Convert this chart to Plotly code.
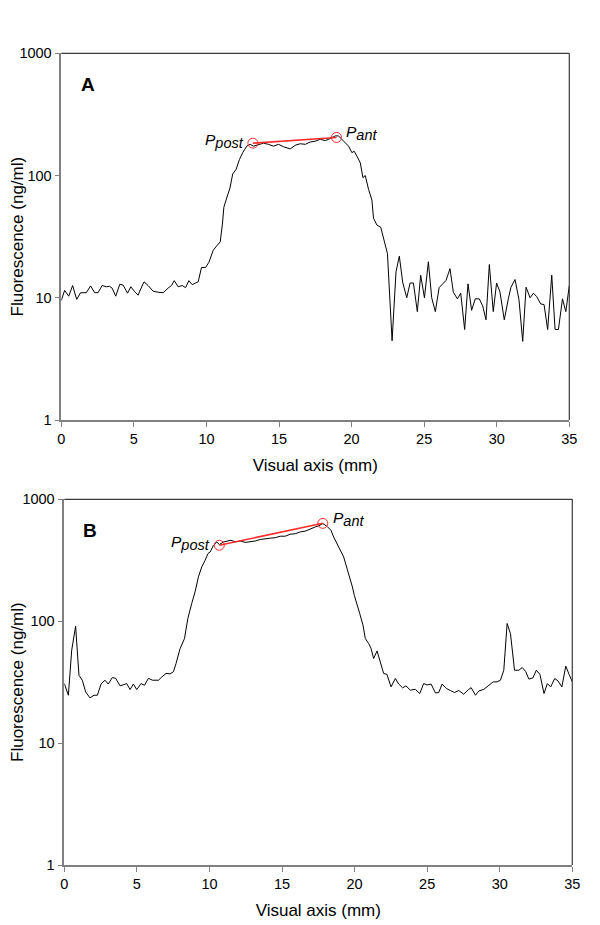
import math
import plotly.graph_objects as go

# ---------------- data ----------------
a_x = [0.0, 0.23, 0.51, 0.78, 1.06, 1.33, 1.5, 1.72, 2.02, 2.3, 2.53, 2.81, 3.1, 3.33, 3.5, 3.75,
       4.03, 4.26, 4.56, 4.79, 5.06, 5.29, 5.5, 5.7, 5.98, 6.33, 6.67, 7.02, 7.36, 7.59, 7.78,
       8.05, 8.33, 8.56, 8.79, 9.02, 9.25, 9.43, 9.66, 9.94, 10.17, 10.47, 10.7, 10.95, 11.1,
       11.2, 11.35, 11.5, 11.62, 11.81, 12.04, 12.27, 12.5, 12.78, 13.01, 13.24, 13.58, 13.93,
       14.27, 14.62, 14.96, 15.31, 15.77, 16.12, 16.46, 16.81, 17.15, 17.5, 17.84, 18.19, 18.53,
       18.88, 19.1, 19.33, 19.56, 19.79, 20.02, 20.18, 20.37, 20.6, 20.78, 20.94, 21.17, 21.4,
       21.51, 21.74, 22.01, 22.24, 22.47, 22.79, 23.06, 23.29, 23.52, 23.8, 24.03, 24.26, 24.53,
       24.76, 25.02, 25.29, 25.52, 25.77, 26.03, 26.28, 26.51, 26.78, 27.01, 27.29, 27.52, 27.79,
       28.02, 28.27, 28.52, 28.8, 29.03, 29.26, 29.49, 29.76, 29.99, 30.22, 30.52, 30.8, 30.98,
       31.26, 31.53, 31.79, 32.02, 32.3, 32.53, 32.76, 33.03, 33.26, 33.51, 33.79, 34.02, 34.25,
       34.53, 34.76, 35.0]
a_y = [9.5, 11.5, 10.3, 12.6, 9.7, 11.0, 11.0, 11.0, 12.5, 11.0, 11.0, 12.6, 12.3, 12.4, 12.0, 10.3,
       12.9, 12.7, 10.9, 12.3, 11.2, 10.5, 12.0, 13.5, 12.6, 11.3, 11.1, 11.0, 12.0, 12.6, 13.8,
       12.3, 12.6, 12.1, 13.8, 12.8, 13.2, 13.5, 17.7, 17.7, 19.5, 24.5, 26.5, 28.7, 40,
       55, 63, 72, 79, 103, 112, 135, 154, 174, 180, 174, 180, 184,
       180, 174, 180, 172, 165, 177, 182, 180, 188, 191, 198, 193, 201,
       211, 211, 198, 188, 174, 154, 158, 144, 127, 96, 100, 77, 63,
       44.8, 39.4, 37.7, 29.7, 23, 4.45, 16.3, 21.9, 13.4, 10, 13.2, 13.2, 7.7,
       15.3, 10, 19.7, 10, 7.7, 12.1, 13, 13.9, 17.3, 11.1, 9.8, 10.9, 5.5,
       13, 7.9, 9.8, 9.8, 8.6, 6.6, 18.7, 7.7, 13.2, 11.2, 6.6, 9.8, 12.2,
       14.1, 9.7, 4.4, 12.2, 10, 10.9, 10.2, 8.9, 8.8, 5.5, 15.3, 5.5, 5.5,
       9.8, 7.7, 12.6]

b_x = [0.0, 0.28, 0.51, 0.78, 1.01, 1.24, 1.47, 1.77, 2.05, 2.28, 2.53, 2.8, 3.03, 3.31, 3.54, 3.84,
       4.11, 4.3, 4.53, 4.76, 4.99, 5.29, 5.52, 5.8, 6.07, 6.3, 6.49, 6.72, 7.01, 7.29, 7.52,
       7.7, 7.98, 8.28, 8.51, 8.78, 9.01, 9.24, 9.47, 9.7, 9.9, 10.05, 10.28, 10.51, 10.68,
       10.97, 11.2, 11.48, 11.78, 12.12, 12.47, 12.81, 13.16, 13.5, 13.85, 14.19, 14.53, 14.88,
       15.22, 15.57, 15.91, 16.26, 16.6, 16.95, 17.29, 17.52, 17.82, 18.1, 18.37, 18.56, 18.79,
       19.02, 19.25, 19.48, 19.66, 19.85, 19.98, 20.17, 20.35, 20.58, 20.74, 20.97, 21.13, 21.31,
       21.55, 21.77, 22.0, 22.23, 22.51, 22.81, 23.04, 23.31, 23.54, 23.84, 24.19, 24.49, 24.76,
       24.99, 25.27, 25.57, 25.8, 26.03, 26.33, 26.6, 26.88, 27.18, 27.52, 27.87, 28.03, 28.33,
       28.56, 28.9, 29.25, 29.55, 29.82, 30.05, 30.28, 30.51, 30.74, 31.02, 31.32, 31.55, 31.78,
       32.01, 32.29, 32.52, 32.77, 33.05, 33.28, 33.51, 33.79, 34.02, 34.28, 34.55, 34.78, 35.0]
b_y = [30.8, 24.7, 57.8, 91, 36, 32.8, 26.3, 23.5, 24.7, 24.7, 30.5, 32.8, 30.5, 34.5, 34, 29.5,
       30.2, 30.8, 27.5, 30.5, 27.5, 30.8, 29.8, 34, 32.8, 32.8, 32.8, 34.9, 37.3, 37, 38.5,
       45, 59.7, 72, 105, 140, 174, 231, 279, 316, 359, 370, 420, 447, 425,
       447, 452, 461, 447, 455, 443, 447, 455, 468, 476, 480, 484, 498,
       498, 517, 522, 540, 548, 575, 593, 605, 632, 600, 557, 490, 433,
       382, 336, 270, 231, 191, 163, 140, 116, 92.7, 72, 65.6, 60, 49.4,
       57, 46.3, 37.3, 36.6, 28.9, 33.9, 30.5, 28.4, 29.5, 27.2, 27.6, 25.5, 30.8,
       30, 30.5, 25.8, 26, 30.5, 28, 27, 26, 27, 25.2, 27.6, 28.5, 24.7,
       26.8, 27.6, 30, 31.8, 31.8, 32.8, 39.6, 95.8, 79, 39.6, 39.6, 41.7, 38.8,
       33.5, 34.3, 39.6, 36.6, 25.5, 30.8, 28.9, 33.9, 32.3, 28.9, 42.8, 36.6, 31.8]

# P_post / P_ant points
a_p_x = [13.2, 18.96]
a_p_y = [184, 205]
b_p_x = [10.68, 17.81]
b_p_y = [420, 635]

x_ticks = [0, 5, 10, 15, 20, 25, 30, 35]
y_ticks = [1, 10, 100, 1000]
y_tick_text = ["1", "10", "100", "1000"]
panel_labels = ["A", "B"]
x_title = "Visual axis (mm)"
y_title = "Fluorescence (ng/ml)"

# ---------------- figure ----------------
W, H = 600, 925
OFF = 8  # page body margin shifts the figure by this many pixels
ML, MR, MT, MB = 50, 20, 40, 50
PW, PH = W - ML - MR, H - MT - MB
FONT = "Liberation Sans, Arial, sans-serif"

fig = go.Figure()
red = "#ff2a2a"
fig.add_trace(go.Scatter(x=a_x, y=a_y, mode="lines", line=dict(color="black", width=1),
                         xaxis="x", yaxis="y", showlegend=False))
fig.add_trace(go.Scatter(x=a_p_x, y=a_p_y, mode="lines+markers", line=dict(color=red, width=1.6),
                         marker=dict(symbol="circle-open", size=10, color=red, line=dict(width=1)),
                         xaxis="x", yaxis="y", showlegend=False))
fig.add_trace(go.Scatter(x=b_x, y=b_y, mode="lines", line=dict(color="black", width=1),
                         xaxis="x2", yaxis="y2", showlegend=False))
fig.add_trace(go.Scatter(x=b_p_x, y=b_p_y, mode="lines+markers", line=dict(color=red, width=1.6),
                         marker=dict(symbol="circle-open", size=10, color=red, line=dict(width=1)),
                         xaxis="x2", yaxis="y2", showlegend=False))

# pixel boxes (in the screenshot) of the two plot areas (left, right, top, bottom)
boxA = (61.3, 569.3, 53.3, 420.0)
boxB = (64.3, 572.3, 499.3, 865.0)


def px_x(px):
    return (px - OFF - ML) / PW


def px_y(py):
    return (H - MB - (py - OFF)) / PH


def xdom(b):
    return [px_x(b[0]), px_x(b[1])]


def ydom(b):
    return [px_y(b[3]), px_y(b[2])]


common_x = dict(range=[0, 35], tickmode="array", tickvals=x_ticks, ticks="outside", ticklen=5,
                tickcolor="#808080", tickwidth=1, showline=True, linecolor="#808080", linewidth=1.5,
                showgrid=False, zeroline=False, automargin=False,
                tickfont=dict(family=FONT, size=14.5, color="black"),
                title=dict(text=x_title, font=dict(family=FONT, size=17, color="black"), standoff=13))
common_y = dict(type="log", range=[0, 3], tickmode="array", tickvals=y_ticks, ticktext=y_tick_text,
                ticks="outside", ticklen=5, tickcolor="#808080", tickwidth=1, showline=True,
                linecolor="#808080", linewidth=1.5, showgrid=False, zeroline=False, automargin=False,
                tickfont=dict(family=FONT, size=14.5, color="black"),
                title=dict(text=y_title, font=dict(family=FONT, size=17, color="black"), standoff=1))

fig.update_layout(
    width=W, height=H, margin=dict(l=ML, r=MR, t=MT, b=MB),
    paper_bgcolor="white", plot_bgcolor="white",
    xaxis=dict(common_x, domain=xdom(boxA), anchor="y"),
    yaxis=dict(common_y, domain=ydom(boxA), anchor="x"),
    xaxis2=dict(common_x, domain=xdom(boxB), anchor="y2"),
    yaxis2=dict(common_y, domain=ydom(boxB), anchor="x2"),
)

# top and right frame lines (darker)
shapes = []
for xr, yr in (("x domain", "y domain"), ("x2 domain", "y2 domain")):
    shapes.append(dict(type="line", xref=xr, yref=yr, x0=0, x1=1, y0=1, y1=1,
                       line=dict(color="#3a3a3a", width=1.2)))
    shapes.append(dict(type="line", xref=xr, yref=yr, x0=1, x1=1, y0=0, y1=1,
                       line=dict(color="#3a3a3a", width=1.2)))
fig.update_layout(shapes=shapes)

ann = []
ann.append(dict(text="<b>" + panel_labels[0] + "</b>", xref="paper", yref="paper",
                x=px_x(79), y=px_y(85), xanchor="left", yanchor="middle", showarrow=False,
                font=dict(family=FONT, size=19, color="black")))
ann.append(dict(text="<b>" + panel_labels[1] + "</b>", xref="paper", yref="paper",
                x=px_x(81), y=px_y(530), xanchor="left", yanchor="middle", showarrow=False,
                font=dict(family=FONT, size=19, color="black")))

lab_font = dict(family=FONT, size=15.5, color="black")
post_txt = "<i>P<sub><span style='font-size:14.5px'>post</span></sub></i>"
ant_txt = "<i>P<sub><span style='font-size:14.5px'>ant</span></sub></i>"
ann.append(dict(text=post_txt, xref="x", yref="y", x=12.75, y=math.log10(192),
                xanchor="right", yanchor="middle", showarrow=False, font=lab_font))
ann.append(dict(text=ant_txt, xref="x", yref="y", x=19.5, y=math.log10(222),
                xanchor="left", yanchor="middle", showarrow=False, font=lab_font))
ann.append(dict(text=post_txt, xref="x2", yref="y2", x=10.2, y=math.log10(440),
                xanchor="right", yanchor="middle", showarrow=False, font=lab_font))
ann.append(dict(text=ant_txt, xref="x2", yref="y2", x=18.4, y=math.log10(690),
                xanchor="left", yanchor="middle", showarrow=False, font=lab_font))
fig.update_layout(annotations=ann)

fig.write_html("out.html")
